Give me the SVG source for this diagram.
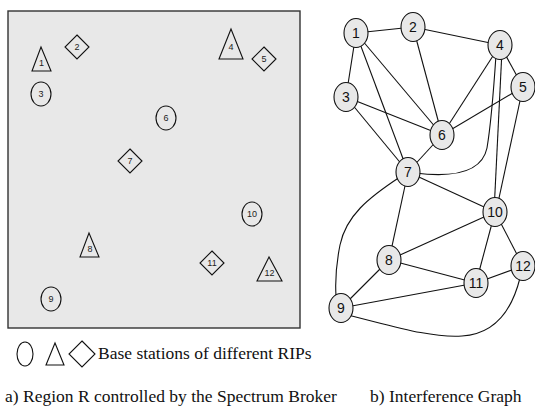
<svg xmlns="http://www.w3.org/2000/svg" width="535" height="409" viewBox="0 0 535 409">
<style>
.bs{fill:none;stroke:#111;stroke-width:1.1}
.sl{font-family:"Liberation Sans",Arial,sans-serif;font-size:9px;fill:#222;text-anchor:middle}
.nd ellipse{fill:#e8e8e8;stroke:#111;stroke-width:1.1}
.nd text{font-family:"Liberation Sans",Arial,sans-serif;font-size:14px;fill:#111;text-anchor:middle}
.ed{fill:none;stroke:#111;stroke-width:1.1}
.cap{font-family:"Liberation Serif","Times New Roman",serif;font-size:17.5px;fill:#111}
</style>
<rect x="8" y="11" width="292" height="317" fill="#e8e8e8" stroke="#333" stroke-width="1.4"/>
<g id="bs1"><polygon class="bs" points="41,47 32,71 51,71"/><text class="sl" x="41.5" y="66">1</text></g>
<g id="bs2"><polygon class="bs" points="77,35 89,47 77,59 65,47"/><text class="sl" x="77" y="50">2</text></g>
<g id="bs3"><ellipse class="bs" cx="41" cy="94" rx="10" ry="12"/><text class="sl" x="41" y="97">3</text></g>
<g id="bs4"><polygon class="bs" points="231,29 219,59 243,59"/><text class="sl" x="231" y="50">4</text></g>
<g id="bs5"><polygon class="bs" points="264,47 276,59 264,71 252,59"/><text class="sl" x="264" y="62">5</text></g>
<g id="bs6"><ellipse class="bs" cx="166" cy="118" rx="10" ry="12"/><text class="sl" x="166" y="121">6</text></g>
<g id="bs7"><polygon class="bs" points="130,149 142,161 130,173 118,161"/><text class="sl" x="130" y="164">7</text></g>
<g id="bs8"><polygon class="bs" points="89,233 80,257 99,257"/><text class="sl" x="90" y="252">8</text></g>
<g id="bs9"><ellipse class="bs" cx="51" cy="299" rx="10" ry="12"/><text class="sl" x="51" y="302">9</text></g>
<g id="bs10"><ellipse class="bs" cx="252" cy="214" rx="10" ry="12"/><text class="sl" x="252" y="217">10</text></g>
<g id="bs11"><polygon class="bs" points="212,251 224,263 212,275 200,263"/><text class="sl" x="212" y="266">11</text></g>
<g id="bs12"><polygon class="bs" points="269,257 257,281 282,281"/><text class="sl" x="269.5" y="276">12</text></g>
<g id="legend">
<ellipse class="bs" cx="25" cy="354" rx="8" ry="12"/>
<polygon class="bs" points="55,343 46,365 64,365"/>
<polygon class="bs" points="82,341 95,354 82,367 69,354"/>
<text class="cap" x="98" y="359">Base stations of different RIPs</text>
</g>
<g id="connectors">
<line class="ed" x1="356" y1="33" x2="413" y2="27"/>
<line class="ed" x1="413" y1="27" x2="500" y2="45"/>
<line class="ed" x1="356" y1="33" x2="346" y2="97"/>
<line class="ed" x1="356" y1="33" x2="442" y2="135"/>
<line class="ed" x1="356" y1="33" x2="408" y2="172"/>
<line class="ed" x1="413" y1="27" x2="442" y2="135"/>
<line class="ed" x1="500" y1="45" x2="442" y2="135"/>
<line class="ed" x1="500" y1="45" x2="523" y2="87"/>
<line class="ed" x1="523" y1="87" x2="442" y2="135"/>
<line class="ed" x1="346" y1="97" x2="442" y2="135"/>
<line class="ed" x1="346" y1="97" x2="408" y2="172"/>
<line class="ed" x1="442" y1="135" x2="408" y2="172"/>
<line class="ed" x1="502" y1="50" x2="494" y2="212"/>
<path class="ed" d="M496 55 C493 100 490 130 487 148 C482 172 455 178 415 173"/>
<line class="ed" x1="523" y1="87" x2="496" y2="212"/>
<line class="ed" x1="408" y1="172" x2="495" y2="212"/>
<line class="ed" x1="408" y1="172" x2="389" y2="260"/>
<path class="ed" d="M400 177 C368 198 346 216 340 245 C336 265 335 280 336 296"/>
<line class="ed" x1="389" y1="260" x2="495" y2="212"/>
<line class="ed" x1="389" y1="260" x2="341" y2="308"/>
<line class="ed" x1="389" y1="260" x2="476" y2="283"/>
<line class="ed" x1="495" y1="212" x2="476" y2="283"/>
<line class="ed" x1="495" y1="212" x2="523" y2="266"/>
<line class="ed" x1="476" y1="283" x2="523" y2="266"/>
<line class="ed" x1="341" y1="308" x2="476" y2="283"/>
<path class="ed" d="M348 315 C393 326 430 338 462 336 C495 334 512 310 520 278"/>
</g>
<g id="n1" class="nd"><ellipse cx="356" cy="33" rx="12" ry="14.5"/><text x="356" y="38">1</text></g>
<g id="n2" class="nd"><ellipse cx="413" cy="27" rx="12" ry="14.5"/><text x="413" y="32">2</text></g>
<g id="n3" class="nd"><ellipse cx="346" cy="97" rx="12" ry="14.5"/><text x="346" y="102">3</text></g>
<g id="n4" class="nd"><ellipse cx="500" cy="45" rx="12" ry="14.5"/><text x="500" y="50">4</text></g>
<g id="n5" class="nd"><ellipse cx="523" cy="87" rx="12" ry="14.5"/><text x="523" y="92">5</text></g>
<g id="n6" class="nd"><ellipse cx="442" cy="135" rx="12" ry="14.5"/><text x="442" y="140">6</text></g>
<g id="n7" class="nd"><ellipse cx="408" cy="172" rx="12" ry="14.5"/><text x="408" y="177">7</text></g>
<g id="n8" class="nd"><ellipse cx="389" cy="260" rx="12" ry="14.5"/><text x="389" y="265">8</text></g>
<g id="n9" class="nd"><ellipse cx="341" cy="308" rx="12" ry="14.5"/><text x="341" y="313">9</text></g>
<g id="n10" class="nd"><ellipse cx="495" cy="212" rx="12" ry="14.5"/><text x="495" y="217">10</text></g>
<g id="n11" class="nd"><ellipse cx="476" cy="283" rx="12" ry="14.5"/><text x="476" y="288">11</text></g>
<g id="n12" class="nd"><ellipse cx="523" cy="266" rx="12" ry="14.5"/><text x="523" y="271">12</text></g>
<text class="cap" x="5" y="402">a) Region R controlled by the Spectrum Broker</text>
<text class="cap" x="370" y="402">b) Interference Graph</text>
</svg>
